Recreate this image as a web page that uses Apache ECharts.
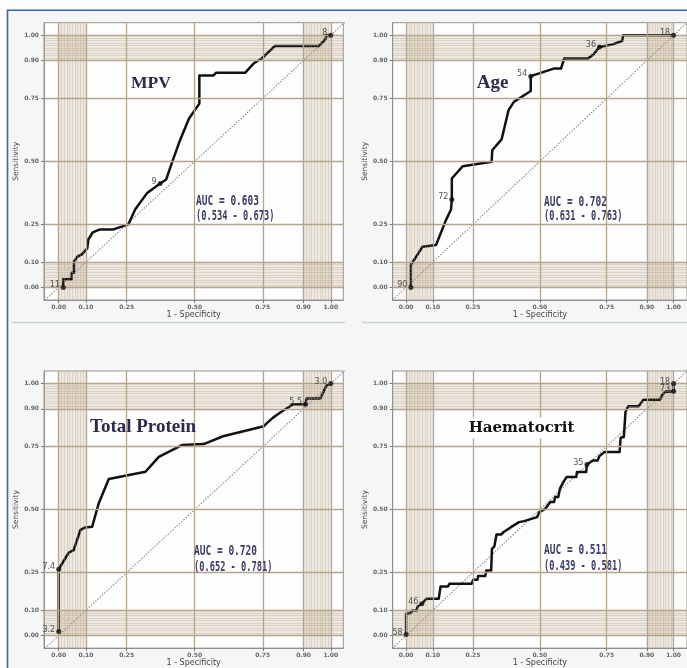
<!DOCTYPE html>
<html><head><meta charset="utf-8">
<script src="https://cdn.jsdelivr.net/npm/echarts@6/dist/echarts.min.js"></script>
<style>html,body{margin:0;padding:0;background:#fdfdfd}#c{width:687px;height:668px}</style>
</head><body><div id="c"></div><script>
// ---------- data ----------
const tickValues = [0, 0.1, 0.25, 0.5, 0.75, 0.9, 1];
const minorValues = [0.01,0.02,0.03,0.04,0.05,0.06,0.07,0.08,0.09,0.91,0.92,0.93,0.94,0.95,0.96,0.97,0.98,0.99];
const bandRanges = [[0, 0.1], [0.9, 1]];
const diagonalEnds = [-0.1, 1.1];

const panelTitles = ['MPV', 'Age', 'Total Protein', 'Haematocrit'];
const aucLines = [
  ['AUC = 0.603', '(0.534 - 0.673)'],
  ['AUC = 0.702', '(0.631 - 0.763)'],
  ['AUC = 0.720', '(0.652 - 0.781)'],
  ['AUC = 0.511', '(0.439 - 0.581)']
];

const mpvFpr = [0.017,0.017,0.048,0.048,0.056,0.056,0.069,0.085,0.105,0.109,0.125,0.152,0.201,0.256,0.281,0.324,0.373,0.395,0.415,0.446,0.479,0.517,0.517,0.569,0.578,0.685,0.716,0.746,0.795,0.957,0.979,0.985,1.0];
const mpvTpr = [0,0.032,0.032,0.058,0.058,0.102,0.122,0.131,0.155,0.190,0.218,0.230,0.230,0.250,0.309,0.373,0.412,0.428,0.491,0.584,0.670,0.729,0.841,0.841,0.851,0.851,0.888,0.908,0.958,0.958,0.983,1.0,1.0];
const mpvCutFpr = [0.017, 0.373, 1.0];
const mpvCutTpr = [0, 0.412, 1.0];
const mpvCutLabels = ['11', '9', '8'];

const ageFpr = [0.018,0.018,0.061,0.112,0.149,0.168,0.171,0.171,0.212,0.320,0.322,0.357,0.383,0.403,0.466,0.466,0.552,0.579,0.591,0.680,0.701,0.723,0.772,0.808,0.811,1.0];
const ageTpr = [0,0.089,0.161,0.168,0.267,0.309,0.349,0.432,0.481,0.498,0.544,0.587,0.703,0.736,0.779,0.838,0.868,0.868,0.908,0.908,0.925,0.954,0.964,0.978,1.0,1.0];
const ageCutFpr = [0.018, 0.171, 0.466, 0.723, 1.0];
const ageCutTpr = [0, 0.349, 0.838, 0.954, 1.0];
const ageCutLabels = ['90', '72', '54', '36', '18'];

const proteinFpr = [0,0,0.037,0.055,0.080,0.098,0.123,0.147,0.184,0.319,0.368,0.404,0.453,0.533,0.604,0.754,0.766,0.788,0.813,0.862,0.907,0.911,0.962,0.984,0.987,1.0];
const proteinTpr = [0.016,0.263,0.329,0.339,0.419,0.429,0.432,0.524,0.621,0.650,0.709,0.729,0.756,0.760,0.791,0.831,0.844,0.865,0.884,0.918,0.918,0.941,0.941,0.993,1.0,1.0];
const proteinCutFpr = [0, 0, 0.907, 1.0];
const proteinCutTpr = [0.016, 0.263, 0.918, 1.0];
const proteinCutLabels = ['3.2', '7.4', '5.5', '3.0'];

const hctFpr = [0,0,0.018,0.022,0.039,0.043,0.059,0.076,0.122,0.129,0.157,0.162,0.245,0.251,0.267,0.269,0.296,0.300,0.318,0.321,0.330,0.338,0.355,0.365,0.392,0.422,0.441,0.490,0.498,0.520,0.539,0.553,0.557,0.569,0.575,0.590,0.600,0.636,0.639,0.673,0.676,0.698,0.716,0.722,0.741,0.798,0.802,0.814,0.820,0.830,0.869,0.887,0.949,0.957,0.967,1.0,1.0];
const hctTpr = [0.004,0.086,0.089,0.099,0.099,0.115,0.126,0.146,0.146,0.195,0.195,0.205,0.205,0.221,0.221,0.236,0.236,0.258,0.258,0.344,0.354,0.401,0.401,0.411,0.430,0.450,0.454,0.470,0.490,0.503,0.530,0.530,0.550,0.550,0.583,0.613,0.629,0.629,0.649,0.649,0.679,0.695,0.695,0.711,0.728,0.728,0.785,0.788,0.887,0.910,0.910,0.936,0.936,0.954,0.967,0.970,1.0];
const hctCutFpr = [0, 0.059, 0.676, 1.0, 1.0];
const hctCutTpr = [0.004, 0.126, 0.679, 0.970, 1.0];
const hctCutLabels = ['58', '46', '35', '73', '18'];

// ---------- layout / style ----------
const curves = [
  [mpvFpr, mpvTpr, mpvCutFpr, mpvCutTpr, mpvCutLabels],
  [ageFpr, ageTpr, ageCutFpr, ageCutTpr, ageCutLabels],
  [proteinFpr, proteinTpr, proteinCutFpr, proteinCutTpr, proteinCutLabels],
  [hctFpr, hctTpr, hctCutFpr, hctCutTpr, hctCutLabels]
];
const gridBoxes = [
  {left: 44, top: 22.7, width: 299.3, height: 277.3, xmin: -0.054, xmax: 1.046},
  {left: 392.7, top: 22.7, width: 300.3, height: 277.3, xmin: -0.05, xmax: 1.05},
  {left: 44, top: 371, width: 299.3, height: 277.3, xmin: -0.054, xmax: 1.046},
  {left: 392.7, top: 371, width: 300.3, height: 277.3, xmin: -0.05, xmax: 1.05}
];
const titlePos = [[151, 83.5], [492.5, 83], [143, 427.5], [521.5, 428]];
const aucPos = [[196, 201, 216], [544, 202, 216.5], [194, 551, 567], [544, 550, 566.5]];

const majorStyle = {color: '#b3a48d', width: 1.3, type: 'solid'};
const minorStyle = {color: 'rgba(178,163,138,0.45)', width: 0.7, type: 'solid'};

const grids = [], xAxes = [], yAxes = [], series = [], graphics = [];

graphics.push({type: 'rect', shape: {x: 0, y: 0, width: 687, height: 9.5}, style: {fill: '#fdfdfd'}, silent: true});
graphics.push({type: 'rect', shape: {x: 0, y: 0, width: 7, height: 668}, style: {fill: '#fdfdfd'}, silent: true});
graphics.push({type: 'polyline', shape: {points: [[7.5, 668], [7.5, 10.2], [687, 10.2]]}, style: {stroke: '#3d62b3', lineWidth: 1.6, fill: null}, silent: true});
graphics.push({type: 'line', shape: {x1: 12, y1: 322.5, x2: 345, y2: 322.5}, style: {stroke: '#c9d2c9', lineWidth: 1.5}, silent: true});
graphics.push({type: 'line', shape: {x1: 362, y1: 322.5, x2: 687, y2: 322.5}, style: {stroke: '#c9d2c9', lineWidth: 1.5}, silent: true});

const fmt = v => v.toFixed(2);

curves.forEach((c, i) => {
  const g = gridBoxes[i];
  grids.push({left: g.left, top: g.top, width: g.width, height: g.height, show: true,
    backgroundColor: '#fdfdfd', borderColor: '#9a958c', borderWidth: 1});
  xAxes.push({gridIndex: i, type: 'value', min: g.xmin, max: g.xmax,
    axisLine: {show: true, onZero: false, lineStyle: {color: '#8f8f8f', width: 1}},
    axisTick: {show: true, customValues: tickValues, length: 3, lineStyle: {color: '#777'}},
    axisLabel: {customValues: tickValues, formatter: fmt, fontSize: 6, color: '#666', margin: 4, fontWeight: 'bold', fontFamily: 'DejaVu Sans'},
    splitLine: {show: false},
    name: '1 - Specificity', nameLocation: 'middle', nameGap: 10,
    nameTextStyle: {fontSize: 8, color: '#444', fontFamily: 'DejaVu Sans'}});
  yAxes.push({gridIndex: i, type: 'value', min: -0.05, max: 1.05,
    axisLine: {show: true, onZero: false, lineStyle: {color: '#8f8f8f', width: 1}},
    axisTick: {show: true, customValues: tickValues, length: 3, lineStyle: {color: '#777'}},
    axisLabel: {customValues: tickValues, formatter: fmt, fontSize: 6, color: '#666', margin: 5, fontWeight: 'bold', fontFamily: 'DejaVu Sans'},
    splitLine: {show: false},
    name: 'Sensitivity', nameLocation: 'middle', nameGap: 15,
    nameTextStyle: {fontSize: 7.5, color: '#444', fontFamily: 'DejaVu Sans'}});

  const areas = [];
  bandRanges.forEach(r => {
    areas.push([{xAxis: r[0]}, {xAxis: r[1]}]);
    areas.push([{yAxis: r[0]}, {yAxis: r[1]}]);
  });
  series.push({type: 'line', xAxisIndex: i, yAxisIndex: i, data: [], silent: true, z: 1,
    markArea: {silent: true, itemStyle: {color: 'rgba(196,180,150,0.28)'}, data: areas}});

  const lines = [];
  minorValues.forEach(v => { lines.push({xAxis: v, lineStyle: minorStyle}); lines.push({yAxis: v, lineStyle: minorStyle}); });
  tickValues.forEach(v => { lines.push({xAxis: v, lineStyle: majorStyle}); lines.push({yAxis: v, lineStyle: majorStyle}); });
  series.push({type: 'line', xAxisIndex: i, yAxisIndex: i, data: [], silent: true, z: 2,
    markLine: {silent: true, symbol: ['none', 'none'], label: {show: false}, animation: false, data: lines}});

  series.push({type: 'line', xAxisIndex: i, yAxisIndex: i, silent: true, z: 3, showSymbol: false,
    data: [[diagonalEnds[0], diagonalEnds[0]], [diagonalEnds[1], diagonalEnds[1]]],
    lineStyle: {color: '#8a8a8a', width: 1.1, type: [1.5, 1.5]}});

  const [fpr, tpr, cf, ct, cl] = c;
  series.push({type: 'line', xAxisIndex: i, yAxisIndex: i, silent: true, z: 4, showSymbol: false,
    data: fpr.map((x, k) => [x, tpr[k]]),
    lineStyle: {color: '#111', width: 2.5, join: 'round'}});
  series.push({type: 'scatter', xAxisIndex: i, yAxisIndex: i, silent: true, z: 5, symbolSize: 5,
    itemStyle: {color: '#111'},
    data: cf.map((x, k) => ({value: [x, ct[k]], name: cl[k]})),
    label: {show: true, formatter: '{b}', position: 'left', distance: 1, offset: [0, -2],
      fontSize: 8, color: '#2a2a2a', fontFamily: 'DejaVu Sans'}});

  const isHct = i === 3;
  graphics.push({type: 'text', x: titlePos[i][0], y: titlePos[i][1], z: 50, silent: true,
    style: {text: panelTitles[i],
      font: isHct ? 'bold 15px "DejaVu Serif"' : (i === 0 ? 'bold 17.5px "Liberation Serif"' : 'bold 19px "Liberation Serif"'),
      fill: isHct ? '#111' : '#2c2b4e', align: 'center', verticalAlign: 'middle',
      backgroundColor: isHct ? '#ffffff' : null, padding: isHct ? [3, 3] : 0}});
  graphics.push({type: 'text', x: aucPos[i][0], y: aucPos[i][1], scaleX: 0.68, z: 50, silent: true,
    style: {text: aucLines[i][0], font: 'bold 14px "DejaVu Sans Mono"', fill: '#3d3d68', align: 'left', verticalAlign: 'middle'}});
  graphics.push({type: 'text', x: aucPos[i][0], y: aucPos[i][2], scaleX: 0.62, z: 50, silent: true,
    style: {text: aucLines[i][1], font: 'bold 14px "DejaVu Sans Mono"', fill: '#3d3d68', align: 'left', verticalAlign: 'middle'}});
});

const chart = echarts.init(document.getElementById('c'), null, {renderer: 'canvas'});
chart.setOption({
  backgroundColor: '#f5f6f6',
  animation: false,
  grid: grids, xAxis: xAxes, yAxis: yAxes, series: series,
  graphic: {elements: graphics}
});
</script></body></html>
